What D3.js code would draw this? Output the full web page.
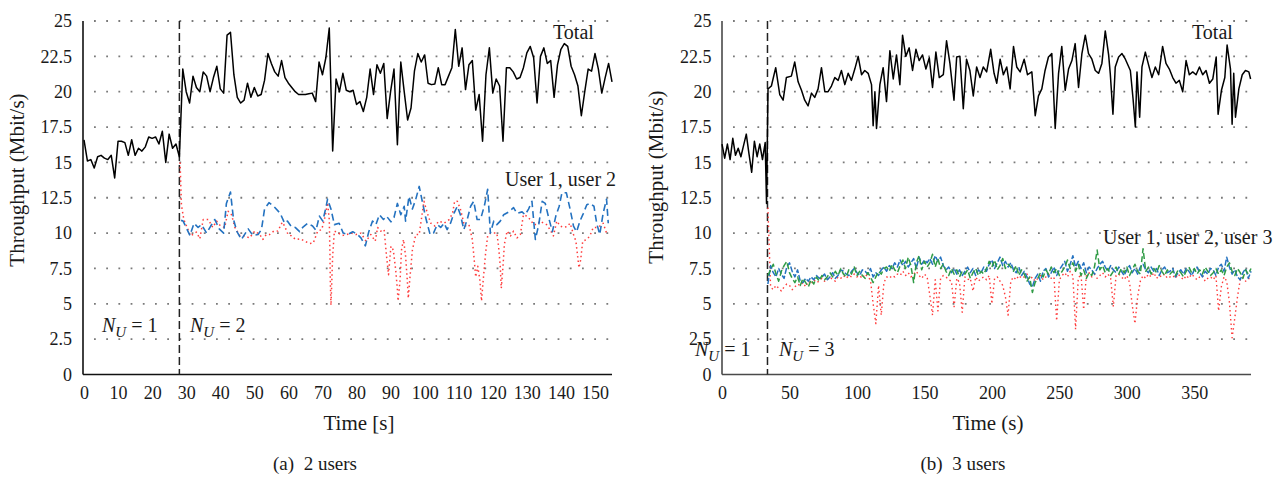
<!DOCTYPE html>
<html>
<head>
<meta charset="utf-8">
<script src="https://cdn.jsdelivr.net/npm/d3@7"></script>
<style>
  body { margin: 0; background: #fff; }
  text { font-family: "Liberation Serif", "Times New Roman", serif; fill: #1a1a1a; }
</style>
</head>
<body>
<svg id="chart"></svg>
<script>
// ---- data ----
const yTicks = [0, 2.5, 5, 7.5, 10, 12.5, 15, 17.5, 20, 22.5, 25]
const leftXTicks = [0, 10, 20, 30, 40, 50, 60, 70, 80, 90, 100, 110, 120, 130, 140, 150]
const rightXTicks = [0, 50, 100, 150, 200, 250, 300, 350]

// (a) total throughput, one sample per second from t = 0
const leftTotal = [
  16.6, 15.1, 15.2, 14.6, 15.4, 15.5, 15.3, 15.2, 15.5, 13.9,
  16.5, 16.5, 16.4, 15.5, 16.6, 15.5, 16.0, 15.8, 16.1, 16.8,
  16.7, 16.8, 16.3, 17.2, 15.0, 17.0, 16.0, 16.3, 15.4,
  21.6, 20.0, 19.2, 21.1, 20.3, 20.0, 21.4, 21.1, 20.0, 21.0,
  21.8, 20.2, 19.9, 24.0, 24.2, 21.2, 19.6, 19.2, 19.4, 20.6,
  19.6, 20.3, 19.7, 19.8, 20.8, 22.7, 22.0, 21.4, 21.1, 22.2,
  21.0, 20.6, 20.3, 20.0, 19.8, 19.8, 19.8, 19.85, 19.9, 19.3,
  22.1, 21.2, 22.4, 24.5, 15.8, 20.9, 20.0, 21.3, 20.1, 20.0,
  20.1, 19.1, 19.3, 18.6, 19.6, 21.6, 19.8, 21.9, 21.3, 22.0,
  18.1, 20.0, 21.6, 16.25, 22.1, 20.0, 18.0, 18.85, 21.45, 22.7,
  22.1, 22.6, 20.6, 20.5, 20.55, 21.7, 20.5, 20.5, 21.1, 21.7,
  24.4, 21.8, 23.1, 20.15, 21.9, 22.2, 18.7, 19.8, 16.5, 21.2,
  23.1, 19.9, 20.9, 20.4, 16.5, 21.7, 21.7, 21.4, 20.9, 21.0,
  21.7, 22.75, 23.2, 22.4, 19.2, 22.5, 23.1, 22.0, 22.2, 19.6,
  21.9, 23.0, 23.4, 23.2, 21.8, 21.2, 20.4, 18.3, 20.0, 21.6,
  21.45, 22.7, 21.6, 19.9, 21.0, 22.0, 20.7
]

// (a) user 1 (blue dashed), [time, value]
const leftUser1 = [
  [28.5, 10.9], [29.1, 10.85], [31.1, 9.83], [32.3, 10.7], [33.5, 10.4], [34.5, 10.6], [36.0, 10.0],
  [37.2, 10.5], [38.4, 10.96], [39.7, 10.3], [41.0, 10.0], [41.8, 12.1], [43.0, 12.9], [43.9, 10.96],
  [44.9, 10.1], [46.2, 9.55], [47.4, 10.0], [48.2, 10.3], [49.6, 9.83], [51.1, 9.9], [52.1, 10.25],
  [53.0, 11.7], [54.3, 12.15], [55.7, 11.9], [57.6, 11.4], [58.9, 10.7], [59.7, 10.85], [60.9, 10.45],
  [62.0, 10.4], [63.3, 10.1], [64.2, 10.4], [65.7, 10.7], [67.1, 10.5], [68.1, 10.2], [69.1, 11.2],
  [70.1, 10.85], [71.1, 11.9], [71.5, 12.4], [72.5, 11.7], [73.5, 10.6], [74.9, 10.7], [76.1, 10.0],
  [77.4, 9.9], [78.9, 10.1], [80.3, 9.9], [81.3, 9.66], [82.6, 9.1], [83.6, 10.1], [84.7, 10.85],
  [85.7, 10.6], [86.7, 11.3], [87.9, 10.96], [88.8, 11.2], [90.1, 10.8], [91.0, 11.1], [92.0, 12.1],
  [93.0, 11.3], [94.0, 11.9], [94.4, 10.85], [95.4, 12.6], [96.4, 11.7], [97.4, 12.4], [98.4, 13.3],
  [99.3, 12.25], [100.3, 11.1], [101.6, 9.9], [102.6, 10.0], [103.7, 10.6], [104.7, 10.4], [105.7, 10.7],
  [106.6, 10.25], [107.6, 10.7], [108.6, 11.4], [109.6, 11.9], [110.5, 11.3], [111.5, 10.25], [112.5, 10.96],
  [113.5, 11.9], [114.4, 12.25], [115.4, 10.96], [116.4, 10.96], [117.6, 12.0], [118.5, 13.1], [119.3, 10.0],
  [120.3, 10.85], [121.2, 10.6], [122.2, 10.85], [123.2, 11.3], [124.7, 11.5], [126.1, 11.8], [127.1, 11.4],
  [128.6, 11.5], [129.5, 11.3], [130.5, 11.7], [131.5, 12.25], [132.5, 9.55], [133.5, 10.6], [134.5, 12.25],
  [135.4, 12.1], [136.4, 11.1], [137.5, 10.1], [138.5, 11.2], [139.5, 11.9], [140.3, 12.85], [141.6, 12.85],
  [142.7, 11.7], [143.7, 10.5], [144.6, 10.1], [145.6, 10.85], [146.6, 11.4], [147.6, 12.0], [148.5, 12.1],
  [149.7, 11.9], [150.5, 10.7], [151.4, 9.9], [152.4, 11.4], [153.4, 12.4], [153.9, 10.7]
]

// (a) user 2 (red dotted), [time, value]
const leftUser2 = [
  [28.2, 15.0], [28.6, 12.0], [29.3, 10.96], [31.3, 9.8], [33.0, 10.07], [34.0, 9.6], [35.0, 10.96],
  [36.5, 10.96], [37.8, 10.4], [38.9, 10.85], [40.1, 10.5], [41.3, 10.4], [42.3, 11.55], [43.3, 11.3],
  [44.3, 10.4], [45.8, 9.8], [47.2, 9.8], [48.6, 9.66], [50.1, 10.14], [51.6, 9.9], [52.5, 9.55],
  [53.5, 9.9], [54.5, 9.9], [55.7, 10.14], [56.9, 10.14], [58.2, 10.77], [58.9, 10.5], [59.9, 9.9],
  [60.9, 9.8], [62.1, 9.55], [63.5, 9.6], [64.8, 9.43], [66.2, 9.26], [67.3, 9.3], [68.6, 10.14],
  [69.8, 10.25], [70.8, 11.2], [71.5, 12.15], [72.0, 10.96], [72.2, 8.6], [72.3, 6.7], [72.5, 4.9],
  [73.0, 8.4], [73.5, 10.14], [74.7, 10.0], [75.9, 9.83], [77.1, 9.9], [78.4, 10.0], [79.8, 9.9],
  [81.3, 10.0], [82.8, 9.43], [84.2, 9.9], [85.5, 9.43], [86.2, 10.4], [87.1, 10.14], [88.1, 10.25],
  [88.8, 8.4], [89.4, 7.06], [90.1, 9.07], [90.8, 8.8], [91.5, 7.4], [92.0, 6.0], [92.2, 5.2],
  [92.8, 6.7], [93.2, 8.8], [93.8, 9.55], [94.4, 8.4], [94.9, 6.7], [95.2, 5.4], [95.7, 6.9],
  [96.4, 8.8], [97.4, 9.9], [98.4, 9.9], [99.8, 12.25], [100.8, 11.4], [101.8, 10.7], [103.0, 10.5],
  [104.2, 10.85], [105.7, 10.7], [107.2, 10.96], [108.2, 11.4], [108.8, 12.25], [109.6, 12.25],
  [110.5, 11.7], [111.7, 10.5], [113.0, 10.6], [114.0, 9.55], [114.5, 8.25], [115.0, 6.9], [115.6, 7.65],
  [116.2, 6.7], [116.7, 5.2], [117.2, 6.7], [117.9, 8.6], [118.5, 9.8], [119.3, 10.0], [120.3, 10.0],
  [121.2, 10.0], [121.7, 9.07], [122.2, 7.65], [122.5, 6.1], [123.0, 7.65], [123.4, 9.2], [124.2, 10.14],
  [125.2, 9.8], [126.1, 10.14], [127.1, 9.66], [128.1, 9.9], [129.0, 11.3], [130.0, 11.2], [131.0, 10.96],
  [132.0, 10.6], [132.9, 10.6], [133.9, 10.85], [134.9, 10.7], [135.8, 10.6], [136.8, 10.25], [137.8, 9.8],
  [138.8, 10.85], [139.8, 10.5], [140.7, 10.4], [141.7, 10.45], [142.7, 10.7], [143.7, 9.9], [144.4, 9.43],
  [144.9, 8.4], [145.3, 7.55], [145.8, 8.1], [146.4, 9.43], [147.6, 9.55], [148.5, 9.8], [149.5, 10.4],
  [150.5, 10.4], [151.5, 10.5], [152.4, 10.7], [153.4, 10.0]
]

// (b) total throughput, [time, value]
const rightTotal = [
  [0, 16.3], [2, 15.3], [4, 16.3], [6, 15.2], [8, 16.7], [10, 15.5], [12, 16.0], [14, 15.4], [16, 16.2],
  [18, 17.0], [20, 15.6], [22, 14.3], [24, 16.5], [26, 15.4], [28, 16.3], [30, 15.2], [32, 16.4], [33, 12.1],
  [34.1, 20.2], [36.6, 20.4], [39.8, 21.7], [42.8, 19.8], [45.3, 19.4], [47.7, 21.0], [51.4, 21.1],
  [53.9, 22.1], [56.4, 20.7], [58.9, 20.1], [61.3, 19.4], [63.8, 19.0], [66.3, 19.9], [68.7, 19.6],
  [71.2, 20.2], [73.7, 21.7], [76.2, 20.0], [78.6, 20.0], [81.1, 20.4], [83.6, 21.0], [86.1, 20.8],
  [88.5, 21.5], [91, 20.5], [93.5, 21.3], [95.9, 20.8], [98.4, 21.6], [100.9, 22.5], [103.4, 21.2],
  [105.8, 21.5], [108.3, 21.3], [110.8, 20.5], [112, 17.6], [113.3, 20.0], [114.5, 17.4], [117, 20.5],
  [119.4, 21.7], [121.9, 19.3], [124.4, 22.9], [126.9, 20.9], [129.3, 22.6], [131.8, 20.5], [133.8, 24.0],
  [136.2, 22.5], [138.7, 23.1], [141.2, 21.5], [143.7, 23.0], [146.1, 22.2], [148.6, 22.6], [151.1, 21.6],
  [153.6, 22.4], [156, 20.3], [158.5, 22.8], [161, 21.0], [164, 21.2], [166.4, 23.6], [168.9, 22.0],
  [171.9, 19.4], [173.9, 22.45], [176.3, 22.5], [178.8, 18.8], [181.2, 22.3], [183.7, 21.5], [186.2, 19.7],
  [188.7, 21.75], [191.2, 21.0], [193.6, 21.75], [196.1, 21.4], [199.1, 23.0], [201.6, 21.3], [203.6, 20.6],
  [206.1, 22.3], [208.5, 21.2], [211, 21.75], [213.5, 20.2], [216, 23.2], [218.4, 21.75], [220.9, 21.4],
  [223.9, 22.3], [226.4, 21.2], [229.6, 21.4], [232.1, 18.3], [234.5, 19.7], [237, 20.2], [239.4, 21.5],
  [241.9, 22.45], [244.4, 22.7], [246.9, 17.4], [249.4, 21.3], [251.8, 23.2], [254.3, 20.1], [256.8, 21.6],
  [259.3, 22.2], [261.7, 23.4], [264.2, 20.3], [266.7, 22.7], [269.2, 24.0], [271.6, 22.7], [274.1, 22.3],
  [276.6, 21.5], [279.1, 21.3], [281.5, 22.0], [284, 24.3], [286.5, 22.6], [287.7, 21.3], [289.7, 18.4],
  [291.4, 21.75], [293.9, 22.45], [296.4, 22.7], [298.9, 22.3], [302.6, 21.5], [304.6, 19.5], [306.3, 17.5],
  [307.5, 21.4], [309.5, 18.2], [311.2, 21.75], [313.7, 22.8], [316.1, 21.9], [318.6, 21.0], [321.1, 21.75],
  [323.6, 21.2], [326.5, 23.2], [329, 22.0], [331.5, 21.6], [334, 21.0], [336.4, 20.6], [338.9, 20.8],
  [341.4, 20.0], [343.9, 22.2], [346.3, 21.2], [348.8, 21.4], [351.3, 21.2], [353.8, 21.75], [356.2, 21.2],
  [358.7, 21.5], [361.2, 20.6], [363.7, 20.9], [366.2, 22.45], [367.6, 18.4], [370.1, 20.1], [372.6, 21.0],
  [374.3, 23.3], [376.8, 21.6], [378, 17.7], [379.2, 21.3], [380.5, 18.2], [383, 20.2], [385.5, 21.2],
  [387.9, 21.5], [390.4, 21.4], [391.7, 20.9]
]

// (b) per-user throughput, one sample every 2 s from t = 34
const rightStart = 34
const rightStep = 2
const rightUser1 = [
  6.4, 7.7, 7.2, 6.9, 7.5, 7.1, 6.8, 7.6, 7.9, 7.3,
  6.9, 7.4, 6.6, 6.5, 6.8, 6.6, 6.9, 6.7, 7.0, 6.8,
  6.9, 7.1, 6.7, 6.9, 7.2, 6.8, 7.0, 7.4, 7.3, 7.1,
  7.0, 7.3, 7.5, 7.2, 7.0, 7.4, 7.3, 7.1, 7.5, 6.9,
  7.2, 7.0, 7.4, 7.6, 7.3, 7.7, 7.5, 7.9, 7.6, 8.1,
  7.7, 8.0, 7.6, 7.9, 8.2, 7.5, 8.3, 7.8, 8.1, 7.9,
  8.2, 7.8, 8.4, 8.0, 8.3, 7.7, 7.4, 7.6, 7.2, 7.5,
  7.1, 7.4, 7.0, 7.3, 7.6, 7.2, 7.5, 7.0, 7.4, 7.2,
  7.6, 7.3, 7.8, 8.1, 7.5, 7.9, 8.3, 7.7, 8.0, 7.6,
  7.9, 7.4, 7.2, 7.6, 7.0, 7.3, 6.9, 6.4, 6.2, 6.8,
  7.1, 6.6, 7.3, 7.5, 6.9, 7.2, 7.6, 7.0, 7.4, 7.7,
  8.0, 7.3, 7.8, 8.4, 7.6, 8.0, 7.5, 7.9, 7.2, 7.6,
  7.4, 7.1, 7.5, 7.8, 8.0, 7.6, 7.3, 7.7, 7.4, 7.2,
  7.6, 7.3, 7.0, 7.4, 7.7, 7.2, 7.5, 7.1, 7.6, 7.8,
  7.4, 7.2, 7.6, 7.3, 7.5, 7.0, 7.4, 7.6, 7.2, 7.3,
  7.5, 6.9, 7.2, 7.4, 7.1, 7.5, 7.3, 7.0, 7.4, 7.6,
  7.2, 6.9, 7.3, 7.1, 7.5, 7.4, 7.0, 7.6, 7.8, 7.3,
  8.3, 7.6, 7.1, 7.4, 6.9, 6.7, 7.2, 7.5, 6.8, 7.3
]
const rightUser2 = [
  7.0, 7.4, 7.8, 7.1, 6.6, 7.3, 7.7, 8.0, 7.2, 6.8,
  6.5, 6.9, 6.3, 6.8, 6.5, 6.2, 6.7, 6.4, 6.9, 6.6,
  7.0, 6.7, 6.9, 7.2, 6.9, 7.3, 7.0, 7.5, 7.1, 6.9,
  7.4, 7.1, 7.6, 7.0, 7.3, 7.0, 6.8, 7.2, 6.9, 6.5,
  6.9, 7.3, 7.1, 7.5, 7.6, 7.3, 7.8, 7.4, 7.2, 7.7,
  8.1, 7.5, 8.3, 7.7, 6.5, 7.9, 8.4, 7.4, 8.0, 7.6,
  7.9, 8.5, 7.6, 8.2, 7.5, 7.8, 7.3, 7.0, 7.5, 7.1,
  7.4, 6.9, 7.3, 7.1, 7.4, 6.8, 7.2, 7.5, 7.0, 7.3,
  7.1, 7.5, 8.0, 7.6, 8.1, 7.4, 7.7, 8.2, 7.5, 7.8,
  7.6, 7.3, 7.7, 7.0, 7.4, 7.1, 6.6, 6.9, 5.8, 6.5,
  6.8, 7.2, 6.9, 7.4, 7.1, 7.6, 7.2, 7.5, 7.0, 7.3,
  7.6, 8.1, 7.5, 7.9, 7.3, 7.8, 7.0, 7.4, 6.8, 7.2,
  7.0, 7.6, 8.8, 7.4, 7.7, 7.2, 7.5, 7.0, 7.3, 7.6,
  7.1, 7.5, 7.2, 7.6, 7.0, 7.4, 7.8, 7.3, 7.1, 8.9,
  7.3, 7.6, 7.1, 7.5, 7.2, 7.7, 7.3, 7.0, 7.4, 7.1,
  7.3, 7.0, 7.4, 7.2, 6.9, 7.3, 7.6, 7.2, 7.5, 7.1,
  7.4, 7.1, 7.6, 7.3, 7.0, 7.2, 7.5, 7.1, 7.4, 7.0,
  7.6, 7.9, 7.3, 7.0, 7.5, 7.2, 6.8, 7.4, 7.1, 7.5
]
const rightUser3 = [
  11.8, 6.2, 6.0, 6.3, 6.1, 5.9, 6.2, 6.4, 6.3, 6.0,
  6.2, 6.4, 6.3, 6.5, 6.2, 6.6, 6.4, 6.7, 6.5, 6.6,
  6.8, 6.6, 6.7, 6.9, 6.7, 6.6, 6.9, 6.8, 7.0, 6.8,
  7.0, 6.9, 7.1, 6.9, 7.0, 6.8, 7.1, 6.9, 6.7, 5.0,
  3.6, 6.3, 4.2, 6.5, 6.9, 6.8, 7.0, 6.9, 7.1, 7.0,
  7.3, 7.0, 7.2, 6.9, 7.1, 7.3, 7.0, 6.8, 7.1, 6.9,
  5.6, 4.2, 6.7, 4.5, 6.8, 7.0, 6.9, 6.7, 6.6, 4.8,
  6.8, 6.5, 4.4, 6.9, 6.7, 6.8, 5.9, 6.9, 6.6, 6.8,
  6.9, 6.7, 7.0, 5.0, 6.8, 6.9, 6.6, 6.3, 5.5, 4.2,
  6.6, 6.9, 6.7, 7.0, 6.8, 6.9, 7.1, 6.7, 6.9, 6.6,
  6.8, 7.0, 6.7, 6.9, 7.1, 6.8, 6.9, 3.8, 6.7, 7.0,
  7.2, 6.9, 7.3, 7.0, 3.2, 6.8, 7.1, 4.6, 7.0, 7.2,
  6.9, 7.1, 6.8, 7.0, 7.2, 6.9, 7.1, 6.8, 4.8, 7.0,
  7.1, 6.9, 6.7, 7.0, 6.5, 4.9, 3.6, 5.5, 6.6, 7.0,
  6.8, 7.1, 6.9, 7.2, 6.8, 7.0, 6.9, 7.1, 6.8, 6.9,
  7.0, 6.8, 7.1, 6.9, 6.7, 7.0, 6.8, 7.1, 6.9, 6.7,
  6.9, 7.0, 6.6, 6.8, 6.9, 6.7, 7.0, 4.5, 6.2, 6.9,
  6.6, 5.1, 2.6, 4.0, 5.5, 6.7, 6.9, 6.6, 6.8, 6.7
]

// ---- setup ----
const width = 1287
const height = 478
const svg = d3.select('#chart').attr('width', width).attr('height', height)
const blue = '#2472c0', red = '#ff3b3b', green = '#2f9b45'

const y = d3.scaleLinear().domain([0, 25]).range([374.5, 21])

function drawPanel(p) {
    const x = d3.scaleLinear().domain(p.xDomain).range(p.xRange)
    const g = svg.append('g')
    const right = p.xRange[1]

    // dotted grid
    g.append('g').selectAll('line')
        .data(yTicks.filter(d => d > 0))
        .join('line')
            .attr('x1', p.axisX + 11).attr('x2', right)
            .attr('y1', d => y(d)).attr('y2', d => y(d))
            .attr('stroke', '#7a7a7a').attr('stroke-width', 1.8)
            .attr('stroke-dasharray', '1.8,10.4')

    // axes (labels only, lines drawn by hand)
    const yAxis = d3.axisLeft(y).tickValues(yTicks).tickSize(0).tickPadding(p.axisX - p.yLabelRight).tickFormat(d => String(d))
    const gy = g.append('g').attr('transform', `translate(${p.axisX},0)`).call(yAxis)
    const xAxis = d3.axisBottom(x).tickValues(p.xTicks).tickSize(0).tickPadding(12).tickFormat(d => String(d))
    const gx = g.append('g').attr('transform', `translate(0,${y(0)})`).call(xAxis)
    ;[gy, gx].forEach(a => {
        a.select('.domain').remove()
        a.attr('font-family', null).attr('font-size', 18)
        a.selectAll('text').style('fill', '#1a1a1a')
    })

    g.append('line').attr('x1', p.axisX).attr('x2', p.axisX).attr('y1', y(25)).attr('y2', y(0))
        .attr('stroke', p.axisColor).attr('stroke-width', 1.6)
    g.append('line').attr('x1', p.axisX).attr('x2', right).attr('y1', y(0)).attr('y2', y(0))
        .attr('stroke', p.axisColor).attr('stroke-width', 1.6)

    // axis titles
    g.append('text')
        .attr('transform', `translate(${p.yTitleX},${p.yTitleY}) rotate(-90)`)
        .attr('text-anchor', 'middle').attr('font-size', 21)
        .text('Throughput (Mbit/s)')
    g.append('text')
        .attr('x', p.xTitleX).attr('y', 430)
        .attr('text-anchor', 'middle').attr('font-size', 21)
        .text(p.xTitle)
    g.append('text')
        .attr('x', p.captionX).attr('y', 470)
        .attr('text-anchor', 'middle').attr('font-size', 19)
        .style('white-space', 'pre')
        .text(p.caption)

    // switch-over line
    g.append('line')
        .attr('x1', x(p.switchT)).attr('x2', x(p.switchT))
        .attr('y1', y(25)).attr('y2', y(0))
        .attr('stroke', '#222').attr('stroke-width', 1.5)
        .attr('stroke-dasharray', '8,4')

    // series
    const line = d3.line().x(d => x(d[0])).y(d => y(d[1]))
    p.series.forEach(s => {
        g.append('path')
            .datum(s.data)
            .attr('fill', 'none')
            .attr('stroke', s.color)
            .attr('stroke-width', s.width)
            .attr('stroke-dasharray', s.dash)
            .attr('stroke-linejoin', 'round')
            .attr('d', line)
    })

    // annotations
    p.labels.forEach(l => {
        g.append('text').attr('x', l.x).attr('y', l.y).attr('font-size', 20).text(l.text)
    })
    p.nu.forEach(n => {
        const t = g.append('text').attr('x', n.x).attr('y', n.y).attr('font-size', 20)
        t.append('tspan').style('font-style', 'italic').text('N')
        t.append('tspan').style('font-style', 'italic').attr('font-size', 15).attr('dy', 5).text('U')
        t.append('tspan').attr('dy', -5).text(' = ' + n.n)
    })
}

const leftTotalPts = leftTotal.map((v, i) => [i, v])
const toPts = arr => arr.map((v, i) => [rightStart + i * rightStep, v])

drawPanel({
    xDomain: [0, 155], xRange: [84, 612], axisX: 83, yLabelRight: 72,
    xTicks: leftXTicks, axisColor: '#111',
    yTitleX: 24, yTitleY: 180, xTitleX: 359, xTitle: 'Time [s]',
    captionX: 315, caption: '(a)  2 users',
    switchT: 28,
    series: [
        {data: leftUser2, color: red, width: 1.5, dash: '1.5,3'},
        {data: leftUser1, color: blue, width: 1.6, dash: '7,4'},
        {data: leftTotalPts, color: '#000', width: 1.5, dash: null}
    ],
    labels: [
        {x: 553, y: 39, text: 'Total'},
        {x: 505, y: 186, text: 'User 1, user 2'}
    ],
    nu: [{x: 102, y: 332, n: 1}, {x: 190, y: 332, n: 2}]
})

drawPanel({
    xDomain: [0, 392], xRange: [722, 1251], axisX: 722, yLabelRight: 711.5,
    xTicks: rightXTicks, axisColor: '#4a4a4a',
    yTitleX: 663, yTitleY: 177, xTitleX: 988, xTitle: 'Time (s)',
    captionX: 963, caption: '(b)  3 users',
    switchT: 33.7,
    series: [
        {data: toPts(rightUser3), color: red, width: 1.4, dash: '1.5,3'},
        {data: toPts(rightUser1), color: blue, width: 1.5, dash: '6,2'},
        {data: toPts(rightUser2), color: green, width: 1.5, dash: '6,3'},
        {data: rightTotal, color: '#000', width: 1.5, dash: null}
    ],
    labels: [
        {x: 1192, y: 39, text: 'Total'},
        {x: 1103, y: 244, text: 'User 1, user 2, user 3'}
    ],
    nu: [{x: 695, y: 356, n: 1}, {x: 779, y: 356, n: 3}]
})
</script>
</body>
</html>
